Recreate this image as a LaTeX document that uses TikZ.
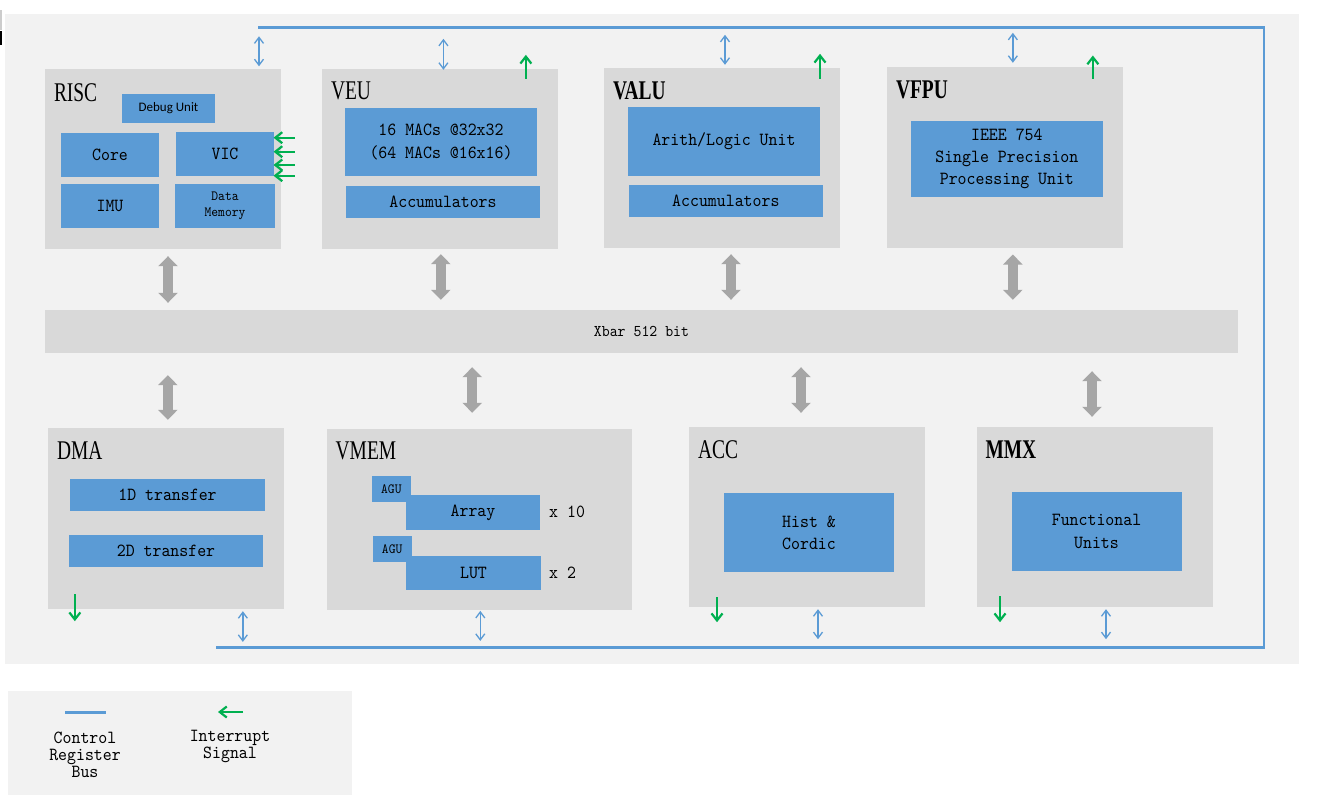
\documentclass[tikz,border=0pt]{standalone}
\usepackage{fontspec}
\usetikzlibrary{arrows.meta,calc}
\newfontfamily\monof[Extension=.otf, FakeStretch=0.92]{lmmono10-regular}
\newfontfamily\titlef[FakeStretch=0.72]{Liberation Serif}
\newfontfamily\sansf{Carlito}
\definecolor{bgc}{HTML}{F2F2F2}
\definecolor{boxc}{HTML}{D9D9D9}
\definecolor{bluec}{HTML}{5B9BD5}
\definecolor{greenc}{HTML}{00B050}
\definecolor{grayc}{HTML}{A6A6A6}
\tikzset{
  unitbox/.style={fill=boxc, draw=none, inner sep=0pt},
  innerbox/.style={fill=bluec, draw=none, inner sep=0pt, align=center,
    font=\monof\fontsize{18.5}{22.3}\selectfont},
  smallbox/.style={fill=bluec, draw=none, inner sep=0pt, align=center,
    font=\monof\fontsize{14.1}{16.7}\selectfont},
  ttl/.style={anchor=base west, inner sep=0pt, font=\titlef\fontsize{27}{30}\selectfont},
  ttlb/.style={anchor=base west, inner sep=0pt, font=\titlef\bfseries\fontsize{27}{30}\selectfont},
  plaintext/.style={inner sep=0pt, align=center, font=\monof\fontsize{18.5}{17}\selectfont},
  bus/.style={draw=bluec, line width=2.5pt},
  busarrow/.style={draw=bluec, line width=1.3pt, {Straight Barb[length=6pt,width=9pt]}-{Straight Barb[length=6pt,width=9pt]}},
  intarrow/.style={draw=greenc, line width=2.2pt, -{Straight Barb[length=7pt,width=11pt]}},
  xbararrow/.style={draw=grayc, line width=10pt, {Triangle[length=10pt,width=19pt]}-{Triangle[length=10pt,width=19pt]}},
}
\begin{document}
\begin{tikzpicture}[x=1pt,y=-1pt]
\useasboundingbox (0,0) rectangle (1326,811);
\fill[white] (0,0) rectangle (1326,811);
% artifact at top-left
\fill[black!20] (0,10) rectangle (1.5,30);
\fill[black] (0,31) rectangle (2,45);
% backgrounds
\node[fill=bgc, inner sep=0pt, minimum width=1294pt, minimum height=650pt] (bg) at (652,339) {};
\node[fill=bgc, inner sep=0pt, minimum width=344pt, minimum height=104pt] (legend) at (179.5,743) {};

% control register bus
\coordinate (busA) at (258,27.3);
\coordinate (busB) at (1264,27.3);
\coordinate (busC) at (1264,647.7);
\coordinate (busD) at (216,647.7);
\draw[bus] (busA) -- (busB) -- (busC) -- (busD);

% RISC
\node[unitbox, minimum width=236pt, minimum height=180pt] (risc) at (163,159) {};
\node[ttl] at ([shift={(9,32.5)}]risc.north west) {RISC};
\node[fill=bluec, inner sep=0pt, minimum width=93pt, minimum height=29pt, font=\sansf\fontsize{13}{15}\selectfont] (debug) at (168.5,108.5) {Debug Unit};
\node[innerbox, minimum width=98pt, minimum height=43.5pt] (core) at (110,154.75) {Core};
\node[innerbox, minimum width=98pt, minimum height=43.7pt] (vic) at (225,153.85) {VIC};
\node[innerbox, minimum width=98pt, minimum height=43.7pt] (imu) at (110,205.85) {IMU};
\node[smallbox, minimum width=100pt, minimum height=43.7pt] (dmem) at (225,205.85) {Data\\Memory};
\foreach \dy in {-16.15,-2.15,11.15,21.85}
  \draw[intarrow] ($(vic.east)+(20.7,\dy)$) -- ($(vic.east)+(-0.7,\dy)$);
\draw[busarrow] ($(risc.north)+(96,-2.5)$) -- ($(risc.north)+(96,-32.5)$);

% VEU
\node[unitbox, minimum width=235.7pt, minimum height=179.7pt] (veu) at (439.85,158.85) {};
\node[ttl] at ([shift={(9,31)}]veu.north west) {VEU};
\node[innerbox, minimum width=192pt, minimum height=67.7pt] (macs) at (441,141.85) {16 MACs @32x32\\(64 MACs @16x16)};
\node[innerbox, minimum width=194pt, minimum height=31.7pt] (veuacc) at (443,201.85) {Accumulators};
\draw[busarrow] ($(veu.north)+(3.6,-30)$) -- ($(veu.north)+(3.6,1)$);
\draw[intarrow] ($(veu.north)+(86,10)$) -- ($(veu.north)+(86,-14)$);

% VALU
\node[unitbox, minimum width=236pt, minimum height=179.7pt] (valu) at (722,157.85) {};
\node[ttlb] at ([shift={(9,31.3)}]valu.north west) {VALU};
\node[innerbox, minimum width=192pt, minimum height=68.7pt] (arith) at (724,141.35) {Arith/Logic Unit};
\node[innerbox, minimum width=193.7pt, minimum height=31.7pt] (valuacc) at (725.85,200.85) {Accumulators};
\draw[busarrow] ($(valu.north)+(3,-33)$) -- ($(valu.north)+(3,-3)$);
\draw[intarrow] ($(valu.north)+(98,11)$) -- ($(valu.north)+(98,-14)$);

% VFPU
\node[unitbox, minimum width=235.7pt, minimum height=180.7pt] (vfpu) at (1004.85,157.35) {};
\node[ttlb] at ([shift={(9,32)}]vfpu.north west) {VFPU};
\node[innerbox, minimum width=191.7pt, minimum height=75.7pt] (ieee) at (1006.85,158.85) {IEEE 754\\Single Precision\\Processing Unit};
\draw[busarrow] ($(vfpu.north)+(8,-34)$) -- ($(vfpu.north)+(8,-4)$);
\draw[intarrow] ($(vfpu.north)+(88,12)$) -- ($(vfpu.north)+(88,-11.3)$);

% Xbar
\node[unitbox, minimum width=1193pt, minimum height=42.7pt, font=\monof\fontsize{16.4}{20}\selectfont] (xbar) at (641.5,331.35) {Xbar 512 bit};

% DMA
\node[unitbox, minimum width=235.7pt, minimum height=180.4pt] (dma) at (165.85,518.5) {};
\node[ttl] at ([shift={(9,31)}]dma.north west) {DMA};
\node[innerbox, minimum width=195pt, minimum height=31.7pt] (oned) at (167.5,494.85) {1D transfer};
\node[innerbox, minimum width=194pt, minimum height=31.7pt] (twod) at (166,550.85) {2D transfer};
\draw[intarrow] ($(dma.south)+(-91,-14.7)$) -- ($(dma.south)+(-91,12.3)$);
\draw[busarrow] ($(dma.south)+(77,2.3)$) -- ($(dma.south)+(77,33)$);

% VMEM
\node[unitbox, minimum width=305pt, minimum height=181pt] (vmem) at (479.2,519.5) {};
\node[ttl] at ([shift={(9,31)}]vmem.north west) {VMEM};
\node[smallbox, minimum width=39.3pt, minimum height=25.7pt] (agua) at (391.35,488.85) {AGU};
\node[innerbox, minimum width=134pt, minimum height=35pt] (array) at (473,512.5) {Array};
\node[smallbox, minimum width=39pt, minimum height=25.7pt] (agub) at (392.2,548.85) {AGU};
\node[innerbox, minimum width=135pt, minimum height=34pt] (lut) at (473.5,573) {LUT};
\node[plaintext, anchor=west] (x10) at (549,511.7) {x 10};
\node[plaintext, anchor=west] (x2) at (549,572.3) {x 2};
\draw[busarrow] ($(vmem.south)+(1.1,0.7)$) -- ($(vmem.south)+(1.1,30.7)$);

% ACC
\node[unitbox, minimum width=236pt, minimum height=180pt] (acc) at (807,517) {};
\node[ttl] at ([shift={(9,32)}]acc.north west) {ACC};
\node[innerbox, minimum width=170pt, minimum height=79pt] (hist) at (809,532.5) {Hist \&\\Cordic};
\draw[intarrow] ($(acc.south)+(-90,-10)$) -- ($(acc.south)+(-90,15)$);
\draw[busarrow] ($(acc.south)+(11,2)$) -- ($(acc.south)+(11,32)$);

% MMX
\node[unitbox, minimum width=236pt, minimum height=180pt] (mmx) at (1094.5,517) {};
\node[ttlb] at ([shift={(9,32)}]mmx.north west) {MMX};
\node[innerbox, minimum width=170pt, minimum height=79pt] (fu) at (1096.5,531.5) {Functional\\Units};
\draw[intarrow] ($(mmx.south)+(-94.5,-11)$) -- ($(mmx.south)+(-94.5,15)$);
\draw[busarrow] ($(mmx.south)+(11.5,2)$) -- ($(mmx.south)+(11.5,32)$);

% Xbar connections
\draw[xbararrow] ($(risc.south)+(5,7)$) -- ($(xbar.north -| risc.south)+(5,-7)$);
\draw[xbararrow] ($(veu.south)+(1,5.3)$) -- ($(xbar.north -| veu.south)+(1,-10)$);
\draw[xbararrow] ($(valu.south)+(9,6.3)$) -- ($(xbar.north -| valu.south)+(9,-10)$);
\draw[xbararrow] ($(vfpu.south)+(8,6.6)$) -- ($(xbar.north -| vfpu.south)+(8,-10)$);
\draw[xbararrow] ($(xbar.south -| dma.north)+(2,22.3)$) -- ($(dma.north)+(2,-8.3)$);
\draw[xbararrow] ($(xbar.south -| vmem.north)+(-7,14.3)$) -- ($(vmem.north)+(-7,-16)$);
\draw[xbararrow] ($(xbar.south -| acc.north)+(-6,14.3)$) -- ($(acc.north)+(-6,-14)$);
\draw[xbararrow] ($(xbar.south -| mmx.north)+(-2.5,18.3)$) -- ($(mmx.north)+(-2.5,-10)$);

% Legend
\coordinate (lgA) at (65,712);
\coordinate (lgB) at (106,712);
\draw[draw=bluec, line width=3pt] (lgA) -- (lgB);
\coordinate (liA) at (243,712);
\coordinate (liB) at (218,712);
\draw[intarrow] (liA) -- (liB);
\node[plaintext] (lgtext) at (85,754.5) {Control\\Register\\Bus};
\node[plaintext] (litext) at (230,746) {Interrupt\\Signal};
\end{tikzpicture}
\end{document}
